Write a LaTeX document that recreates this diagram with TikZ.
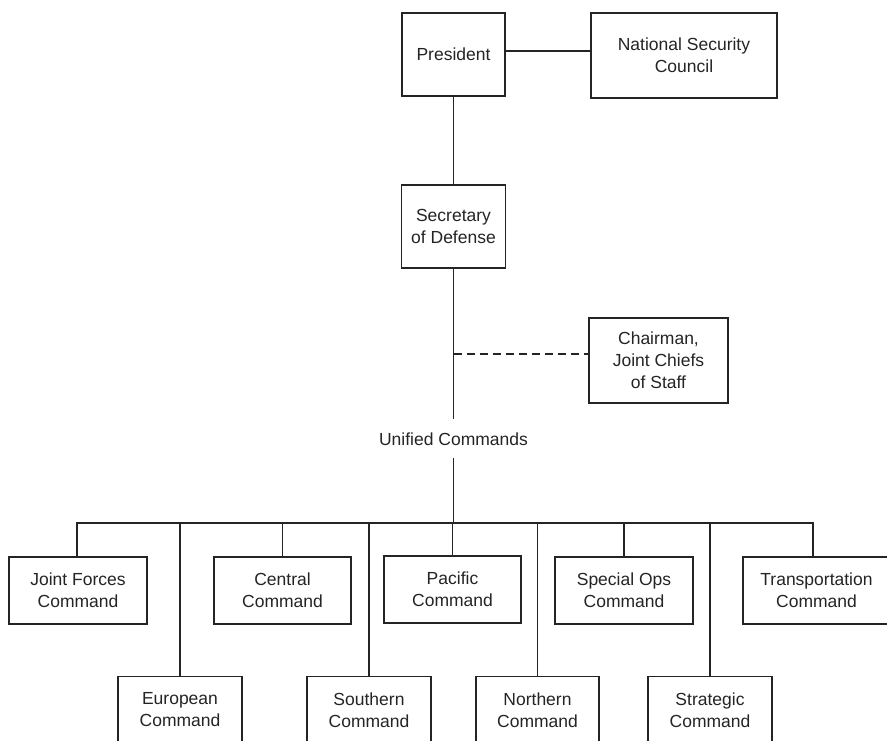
\documentclass[tikz,border=0pt]{standalone}
\usepackage{fontspec}
\setmainfont{Liberation Sans}
\definecolor{ink}{HTML}{252324}
\tikzset{
  x=1pt,y=-1pt,
  box/.style={draw=ink, line width=1.4pt, text=ink, align=center, inner sep=0pt,
    font=\fontsize{17.5}{22}\selectfont},
  link/.style={draw=ink, line width=1.5pt},
  dashlink/.style={draw=ink, line width=1.4pt, dash pattern=on 8pt off 5pt},
  lbl/.style={text=ink, font=\fontsize{17.5}{22}\selectfont}
}
\begin{document}
\begin{tikzpicture}
\useasboundingbox (0,0) rectangle (887,740);
\clip (0,0) rectangle (887,740);
% top
\node[box, minimum width=103pt, minimum height=83pt] (pres) at (453.5,54.5) {President};
\node[box, minimum width=186pt, minimum height=85pt] (nsc) at (684,55.5) {National Security\\Council};
\node[box, minimum width=104pt, minimum height=83pt] (sec) at (453.5,226.5) {Secretary\\of Defense};
\node[box, minimum width=139pt, minimum height=85pt] (cjcs) at (658.5,360.5) {Chairman,\\Joint Chiefs\\of Staff};
\node[lbl, anchor=base, text height=13pt, text depth=0pt, inner ysep=13pt] (uc) at (453.5,445) {Unified Commands};
% top row
\node[box, minimum width=138pt, minimum height=67pt] (jfc) at (78,590.5) {Joint Forces\\Command};
\node[box, minimum width=137pt, minimum height=67pt] (cent) at (282.5,590.5) {Central\\Command};
\node[box, minimum width=137pt, minimum height=67pt] (pac) at (452.5,589.5) {Pacific\\Command};
\node[box, minimum width=138pt, minimum height=67pt] (sops) at (624,590.5) {Special Ops\\Command};
\node[box, minimum width=147pt, minimum height=67pt] (trans) at (816.5,590.5) {Transportation\\Command};
% bottom row
\node[box, minimum width=124pt, minimum height=67pt] (eur) at (180,710) {European\\Command};
\node[box, minimum width=124pt, minimum height=67pt] (south) at (369,710) {Southern\\Command};
\node[box, minimum width=123pt, minimum height=67pt] (north) at (537.5,710) {Northern\\Command};
\node[box, minimum width=124pt, minimum height=67pt] (strat) at (710,710) {Strategic\\Command};
% connectors
\draw[link] (pres.east |- 0,51) -- (nsc.west |- 0,51);
\draw[link] (pres.south) -- (sec.north);
\draw[link] (sec.south) -- (uc.north);
\coordinate (dj) at (453.5,354);
\draw[dashlink] (dj) -- (dj -| cjcs.west);
\coordinate (bus) at (453.5,523);
\draw[link] (uc.south) -- (bus);
\draw[link] ([xshift=-1pt]jfc.north) |- (bus) -| ([xshift=-3.5pt]trans.north);
\draw[link] (eur.north) -- (eur.north |- bus);
\draw[link] (cent.north) -- (cent.north |- bus);
\draw[link] (south.north) -- (south.north |- bus);
\draw[link] (pac.north) -- (pac.north |- bus);
\draw[link] (north.north) -- (north.north |- bus);
\draw[link] (sops.north) -- (sops.north |- bus);
\draw[link] (strat.north) -- (strat.north |- bus);
\end{tikzpicture}
\end{document}
